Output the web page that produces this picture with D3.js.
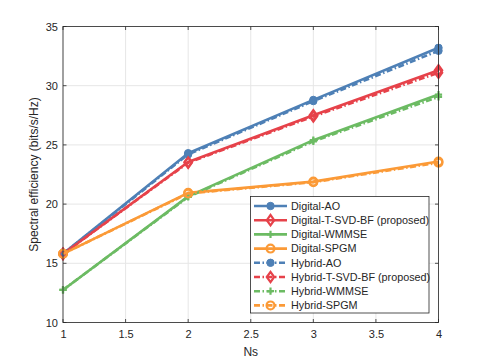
<!DOCTYPE html>
<html><head><meta charset="utf-8">
<script src="https://cdn.jsdelivr.net/npm/d3@7"></script>
<style>body{margin:0;background:#fff}svg{display:block}text{font-family:"Liberation Sans",Arial,sans-serif;fill:#262626}</style>
</head><body><svg id="c" width="485" height="363"></svg>
<script>
const ns = [1, 2, 3, 4];
const xTicks = [1, 1.5, 2, 2.5, 3, 3.5, 4];
const yTicks = [10, 15, 20, 25, 30, 35];
const digitalAO = [15.8, 24.3, 28.8, 33.2];
const digitalTSVD = [15.8, 23.55, 27.5, 31.3];
const digitalWMMSE = [12.75, 20.65, 25.4, 29.25];
const digitalSPGM = [15.8, 20.95, 21.9, 23.6];
const hybridAO = [15.8, 24.2, 28.7, 32.95];
const hybridTSVD = [15.8, 23.5, 27.4, 31.1];
const hybridWMMSE = [12.75, 20.6, 25.3, 29.05];
const hybridSPGM = [15.8, 20.9, 21.85, 23.5];
const names = ["Digital-AO","Digital-T-SVD-BF (proposed)","Digital-WMMSE","Digital-SPGM","Hybrid-AO","Hybrid-T-SVD-BF (proposed)","Hybrid-WMMSE","Hybrid-SPGM"];

const colors = {blue:"#4e80b6", red:"#e6424a", green:"#6cbb63", orange:"#fb9a37"};
const series = [
 {v:digitalAO, c:colors.blue, m:"circle", dash:null},
 {v:digitalTSVD, c:colors.red, m:"diamond", dash:null},
 {v:digitalWMMSE, c:colors.green, m:"plus", dash:null},
 {v:digitalSPGM, c:colors.orange, m:"ocircle", dash:null},
 {v:hybridAO, c:colors.blue, m:"circle", dash:"6,2.5,1.5,2.5"},
 {v:hybridTSVD, c:colors.red, m:"diamond", dash:"6,2.5,1.5,2.5"},
 {v:hybridWMMSE, c:colors.green, m:"plus", dash:"6,2.5,1.5,2.5"},
 {v:hybridSPGM, c:colors.orange, m:"ocircle", dash:"6,2.5,1.5,2.5"}
];
series.forEach((s,i)=>s.name=names[i]);

const L=63, R=438.5, T=26.5, B=322.5;
const svg = d3.select("#c");
const x = d3.scaleLinear().domain([1,4]).range([L,R]);
const y = d3.scaleLinear().domain([10,35]).range([B,T]);

const g = svg.append("g");
g.selectAll(".gx").data(xTicks).join("line").attr("x1",d=>x(d)).attr("x2",d=>x(d)).attr("y1",T).attr("y2",B).attr("stroke","#e6e6e6").attr("stroke-width",1);
g.selectAll(".gy").data(yTicks).join("line").attr("y1",d=>y(d)).attr("y2",d=>y(d)).attr("x1",L).attr("x2",R).attr("stroke","#e6e6e6").attr("stroke-width",1);

const ax = svg.append("g").attr("transform",`translate(0,${B})`).call(d3.axisBottom(x).tickValues(xTicks).tickSize(0).tickPadding(8).tickFormat(d3.format("")));
const ay = svg.append("g").attr("transform",`translate(${L},0)`).call(d3.axisLeft(y).tickValues(yTicks).tickSize(0).tickPadding(5));
[ax,ay].forEach(a=>{a.select(".domain").remove();a.selectAll("text").style("font-size","11px").attr("fill","#262626");});
const tk = svg.append("g").attr("stroke","#262626").attr("stroke-width",0.8);
xTicks.forEach(d=>{tk.append("line").attr("x1",x(d)).attr("x2",x(d)).attr("y1",B).attr("y2",B-3.5);tk.append("line").attr("x1",x(d)).attr("x2",x(d)).attr("y1",T).attr("y2",T+3.5);});
yTicks.forEach(d=>{tk.append("line").attr("y1",y(d)).attr("y2",y(d)).attr("x1",L).attr("x2",L+3.5);tk.append("line").attr("y1",y(d)).attr("y2",y(d)).attr("x1",R).attr("x2",R-3.5);});

function marker(sel, m, c){
  if(m==="circle") sel.append("circle").attr("r",3.7).attr("fill",c).attr("stroke",c).attr("stroke-width",1);
  else if(m==="ocircle") sel.append("circle").attr("r",3.9).attr("fill","none").attr("stroke",c).attr("stroke-width",2.2);
  else if(m==="diamond") sel.append("path").attr("d","M0,-5.2L3.7,0L0,5.2L-3.7,0Z").attr("fill","none").attr("stroke",c).attr("stroke-width",2.2);
  else if(m==="plus") sel.append("path").attr("d","M-3.6,0H3.6M0,-3.6V3.6").attr("stroke",c).attr("stroke-width",2.2);
}

const line = d3.line().x((d,i)=>x(ns[i])).y(d=>y(d));
const plot = svg.append("g");
series.forEach(s=>{
  plot.append("path").attr("d",line(s.v)).attr("fill","none").attr("stroke",s.c).attr("stroke-width",2.6).attr("stroke-dasharray",s.dash).attr("stroke-linejoin","round");
  s.v.forEach((d,i)=>{const mg=plot.append("g").attr("transform",`translate(${x(ns[i])},${y(d)})`);marker(mg,s.m,s.c);});
});

svg.append("rect").attr("x",L).attr("y",T).attr("width",R-L).attr("height",B-T).attr("fill","none").attr("stroke","#262626").attr("stroke-width",0.8);

svg.append("text").attr("x",(L+R)/2).attr("y",356).attr("text-anchor","middle").style("font-size","12px").text("Ns");
svg.append("text").attr("transform",`translate(38,${(T+B)/2}) rotate(-90)`).attr("text-anchor","middle").style("font-size","12px").text("Spectral efficiency (bits/s/Hz)");

const lg = svg.append("g");
lg.append("rect").attr("x",250.5).attr("y",196.5).attr("width",178.5).attr("height",116.5).attr("fill","#fff").attr("stroke","#262626").attr("stroke-width",0.8);
series.forEach((s,i)=>{
  const yy = 206 + i*14.2;
  lg.append("line").attr("x1",254).attr("x2",287).attr("y1",yy).attr("y2",yy).attr("stroke",s.c).attr("stroke-width",2.6).attr("stroke-dasharray",s.dash);
  marker(lg.append("g").attr("transform",`translate(270.5,${yy})`),s.m,s.c);
  lg.append("text").attr("x",291).attr("y",yy).attr("dy","0.35em").style("font-size","10.8px").text(s.name);
});
</script></body></html>
